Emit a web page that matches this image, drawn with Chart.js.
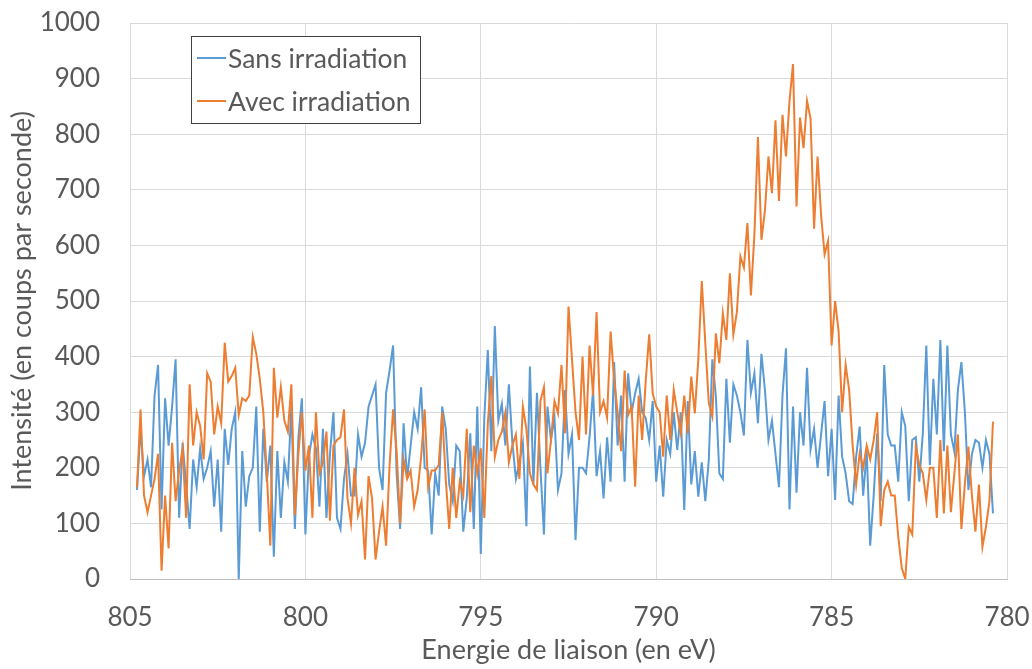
<!DOCTYPE html>
<html>
<head>
<meta charset="utf-8">
<script src="https://cdn.jsdelivr.net/npm/chart.js@4"></script>
<style>
  html, body { margin: 0; padding: 0; background: #fff; }
</style>
</head>
<body>
<canvas id="xpsChart" width="1032" height="669"></canvas>
<script>
// energy grid of the spectrum (eV)
const startEnergy = 804.8;
const energyStep = 0.1;

// counts per second
const sansIrradiation = [
  160,270,185,215,165,330,385,125,325,240,310,395,110,245,170,90,215,165,235,180,200,230,130,215,85,270,205,270,
  300,0,230,130,185,200,310,85,270,175,240,40,230,110,210,175,310,90,255,325,80,220,260,235,130,270,110,225,300,
  110,90,180,225,150,150,260,220,245,310,330,350,200,160,335,375,420,190,90,280,180,240,300,270,345,200,195,80,
  190,150,310,270,170,140,240,230,85,145,262,90,310,45,290,412,230,455,285,315,240,350,245,180,210,245,95,382,170,
  335,200,80,310,250,290,160,190,340,225,260,70,200,200,190,255,340,185,230,145,255,175,390,240,330,175,370,300,
  334,360,300,290,250,320,175,240,148,250,225,300,232,300,124,320,170,230,148,210,140,215,395,330,190,180,360,245,350,
  330,300,258,430,335,370,280,405,340,250,285,225,165,330,415,125,310,155,300,240,380,233,270,200,260,320,185,270,
  142,330,220,190,140,135,220,274,150,230,60,150,262,140,385,260,240,240,175,300,275,140,250,255,175,262,420,205,360,
  260,430,230,420,260,229,340,390,300,160,225,250,245,200,250,225,118
];

const avecIrradiation = [
  165,305,150,120,150,180,225,15,150,55,245,140,195,235,110,350,240,300,275,215,370,355,260,310,280,425,355,365,
  380,295,325,320,330,435,405,360,300,190,60,380,290,345,285,265,350,115,225,300,195,240,110,300,190,210,265,105,240,
  250,255,305,145,100,200,115,140,35,185,145,35,85,130,60,205,305,230,100,215,180,195,130,160,220,305,165,195,
  195,205,300,180,90,200,110,175,150,270,120,240,190,235,110,280,365,220,250,265,300,210,240,260,180,310,270,190,170,
  160,320,345,190,250,320,298,385,262,490,395,300,250,400,260,420,330,480,300,320,290,445,360,300,230,375,295,310,
  166,330,250,355,440,334,310,300,220,330,250,340,300,262,330,262,364,298,395,536,424,316,292,442,388,478,430,550,440,
  480,580,560,640,510,620,795,610,663,760,694,825,680,835,760,860,926,670,830,775,860,828,630,760,655,584,608,420,
  500,445,300,385,340,240,170,226,200,240,215,250,300,95,160,175,150,150,76,20,0,94,80,238,205,190,142,200,200,
  110,250,118,240,120,190,260,90,172,238,150,85,170,58,94,140,283
];

const seriesLabels = ['Sans irradiation', 'Avec irradiation'];
const seriesColors = ['#5b9bd5', '#ed7d31'];

const textColor = '#595959';
const gridColor = '#d9d9d9';
const font = { family: 'Lato', size: 26 };
const titleFont = { family: 'Lato', size: 27 };

const toPoints = values => values.map((v, i) => ({ x: +(startEnergy - i * energyStep).toFixed(2), y: v }));

// Excel-like boxed legend sitting inside the plot
const boxLegend = {
    id: 'boxLegend',
    afterDraw(chart) {
        const ctx = chart.ctx;
        const x = 191, y = 36, w = 229, h = 87;
        ctx.save();
        ctx.fillStyle = '#fff';
        ctx.fillRect(x, y, w, h);
        ctx.strokeStyle = '#404040';
        ctx.lineWidth = 1;
        ctx.strokeRect(x + 0.5, y + 0.5, w, h);
        ctx.font = `26.5px ${font.family}`;
        ctx.textBaseline = 'middle';
        seriesLabels.forEach((label, i) => {
            const ly = y + 22 + i * 43;
            ctx.strokeStyle = seriesColors[i];
            ctx.lineWidth = 2;
            ctx.beginPath();
            ctx.moveTo(x + 6, ly);
            ctx.lineTo(x + 35, ly);
            ctx.stroke();
            ctx.fillStyle = textColor;
            ctx.fillText(label, x + 37, ly + 1);
        });
        ctx.restore();
    }
};

new Chart(document.getElementById('xpsChart').getContext('2d'), {
    type: 'line',
    data: {
        datasets: [
            {
                label: seriesLabels[0],
                data: toPoints(sansIrradiation),
                borderColor: seriesColors[0],
                borderWidth: 2,
                pointRadius: 0,
                order: 1
            },
            {
                label: seriesLabels[1],
                data: toPoints(avecIrradiation),
                borderColor: seriesColors[1],
                borderWidth: 2,
                pointRadius: 0,
                order: 0
            }
        ]
    },
    options: {
        responsive: false,
        animation: false,
        devicePixelRatio: 1,
        layout: { padding: { left: 0, right: 25, top: 23, bottom: 0 } },
        plugins: {
            legend: { display: false },
            tooltip: { enabled: false }
        },
        scales: {
            x: {
                type: 'linear',
                reverse: true,
                min: 780,
                max: 805,
                ticks: { stepSize: 5, font, color: textColor, padding: 23, maxRotation: 0 },
                grid: { color: gridColor, drawTicks: false },
                border: { color: '#bfbfbf' },
                title: {
                    display: true,
                    text: 'Energie de liaison (en eV)',
                    font: titleFont, color: textColor,
                    padding: { top: 0, bottom: 3 }
                },
                afterFit: scale => {
                    scale.height = 90;
                    scale.paddingLeft = 0;
                    scale.paddingRight = 0;
                }
            },
            y: {
                min: 0,
                max: 1000,
                ticks: {
                    stepSize: 100, font, color: textColor, padding: 30,
                    callback: v => String(v)
                },
                grid: { color: gridColor, drawTicks: false },
                border: { display: false },
                title: {
                    display: true,
                    text: 'Intensité (en coups par seconde)',
                    font: titleFont, color: textColor,
                    padding: { top: 6, bottom: 0 }
                },
                afterFit: scale => {
                    scale.width = 130;
                    scale.paddingTop = 0;
                    scale.paddingBottom = 0;
                }
            }
        }
    },
    plugins: [boxLegend]
});
</script>
</body>
</html>
